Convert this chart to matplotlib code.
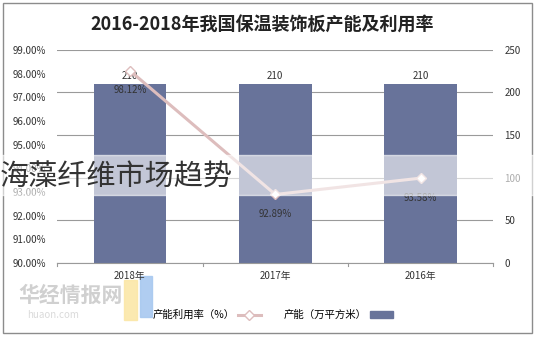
import matplotlib.pyplot as plt
import matplotlib.patches as mpatches
from matplotlib.ticker import FuncFormatter, MultipleLocator

plt.rcParams['font.family'] = ['Noto Sans CJK SC', 'DejaVu Sans']

# 数据（参考图为镜像排列：2018 在左）
years = ['2018年', '2017年', '2016年']
capacity = [210, 210, 210]          # 产能（万平方米）
utilization = [98.12, 92.89, 93.58]  # 产能利用率（%）

bar_color = '#68739A'
line_color = '#DDBDBD'
grid_color = '#9A9A9A'
text_color = '#333333'

fig = plt.figure(figsize=(5.35, 3.37), dpi=100)
fig.patch.set_facecolor('white')

# 外框
fig.add_artist(mpatches.Rectangle((0.006, 0.012), 0.988, 0.979, transform=fig.transFigure,
                                  fill=False, edgecolor='#8C8C8C', linewidth=1.0))

ax = fig.add_axes([0.107, 0.22, 0.815, 0.632])
ax2 = ax.twinx()

x = range(len(years))

# 柱状（右轴 0-250）
ax2.bar(x, capacity, width=0.5, color=bar_color, zorder=2)
for xi, v in zip(x, capacity):
    ax2.text(xi, v + 3, str(v), ha='center', va='bottom', fontsize=7, color=text_color)
ax2.set_ylim(0, 250)
ax2.yaxis.set_major_locator(MultipleLocator(50))
ax2.grid(axis='y', color=grid_color, linewidth=0.8, zorder=0)
ax2.set_axisbelow(True)

# 折线（左轴 90%-99%）
ax.set_zorder(ax2.get_zorder() + 1)
ax.patch.set_visible(False)
ax.plot(x, utilization, color=line_color, linewidth=2.2, marker='D', markersize=5,
        markerfacecolor='white', markeredgecolor=line_color, zorder=5)
ax.set_ylim(90, 99)
ax.yaxis.set_major_locator(MultipleLocator(1))
ax.yaxis.set_major_formatter(FuncFormatter(lambda v, p: f'{v:.2f}%'))
ax.set_xlim(-0.5, 2.5)
ax.set_xticks(list(x))
ax.set_xticklabels(years, fontsize=7, color=text_color)

for xi, v in zip(x, utilization):
    ax.text(xi, v - 0.82, f'{v:.2f}%', ha='center', va='center', fontsize=7,
            color=text_color, zorder=6)

for a in (ax, ax2):
    for s in ('top', 'left', 'right'):
        a.spines[s].set_visible(False)
    a.spines['bottom'].set_color(grid_color)
    a.tick_params(axis='y', length=0, labelsize=7, labelcolor=text_color, pad=8)
ax.tick_params(axis='x', length=0, pad=6)
ax2.spines['bottom'].set_visible(False)
for b in (-0.5, 0.5, 1.5, 2.5):
    ax.plot([b, b], [90, 89.85], color=grid_color, linewidth=0.8, clip_on=False)

# 图例
h_line, = ax.plot([], [], color=line_color, linewidth=2.2, marker='D', markersize=5,
                  markerfacecolor='white', markeredgecolor=line_color)
h_bar = mpatches.Patch(color=bar_color)
fig.legend([h_line, h_bar], ['产能利用率（%）', '产能（万平方米）'], loc='center',
           bbox_to_anchor=(0.51, 0.065), ncol=2, frameon=False, fontsize=7.5,
           markerfirst=False, columnspacing=2.2, handlelength=2.2, handletextpad=0.3)

# 标题
fig.text(0.49, 0.925, '2016-2018年我国保温装饰板产能及利用率', ha='center', va='center',
         fontsize=13, fontweight='bold', color='#222222')

# 水印
fig.text(0.035, 0.125, '华经情报网', fontsize=15, fontweight='bold', color='#D0D0D0', va='center')
fig.text(0.05, 0.065, 'huaon.com', fontsize=7, color='#DADADA', va='center')
fig.add_artist(mpatches.Rectangle((0.232, 0.05), 0.025, 0.12, transform=fig.transFigure,
                                  color='#FBE7A8', alpha=0.9))
fig.add_artist(mpatches.Rectangle((0.262, 0.06), 0.022, 0.12, transform=fig.transFigure,
                                  color='#A8C8F0', alpha=0.9))

# 半透明横带与覆盖文字
fig.add_artist(mpatches.Rectangle((0, 1 - 195 / 337), 1, 40 / 337, transform=fig.transFigure,
                                  color='white', alpha=0.6, zorder=10))
fig.text(0.0, 1 - 178 / 337, '海藻纤维市场趋势', fontsize=21, color='#333333',
         va='center', ha='left', zorder=11)

fig.savefig('out.png', dpi=100)
